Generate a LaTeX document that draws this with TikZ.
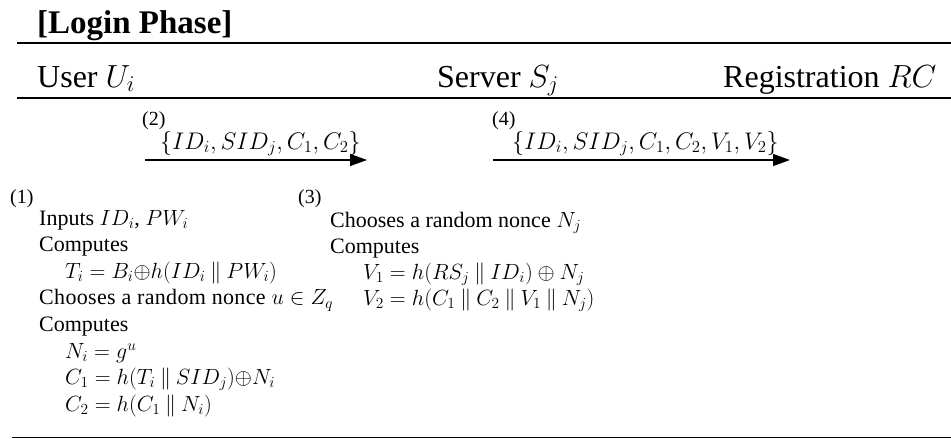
\documentclass[tikz,border=0pt]{standalone}
\usepackage{fix-cm}
\usepackage{fontspec}
\setmainfont{Liberation Serif}
\usetikzlibrary{arrows.meta, positioning}
\newcommand{\catbar}{\mathbin{\|}}
\newcommand{\bodyfont}{\fontsize{22}{26}\selectfont}

\begin{document}
\begin{tikzpicture}[
    x=1pt, y=-1pt,
    title/.style={anchor=base west, inner sep=0pt, font=\fontsize{33}{38}\selectfont\bfseries},
    party/.style={anchor=base west, inner sep=0pt, font=\fontsize{32}{38}\selectfont},
    txt/.style={anchor=base west, inner sep=0pt, font=\bodyfont},
    stepno/.style={anchor=base west, inner sep=0pt, font=\fontsize{20}{24}\selectfont},
    rule/.style={line width=2.4pt},
    msg/.style={-{Triangle[length=17pt,width=12pt]}, line width=1.3pt}
]
    \useasboundingbox (0,0) rectangle (951,439);

    \node[title] (phase) at (37,33) {[Login Phase]};
    \draw[rule] (17,43) -- (951,43);
    \node[party] (user) at (37,87) {User\ $U_i$};
    \node[party] (server) at (437,87) {Server\ $S_j$};
    \node[party] (rc) at (723,87) {Registration\ $RC$};
    \draw[rule] (17,98) -- (951,98);

    \coordinate (m2s) at (145,160);
    \coordinate (m2e) at (367,160);
    \coordinate (m4s) at (493,160);
    \coordinate (m4e) at (790,160);
    \node[stepno] (s2) at (142,125) {(2)};
    \node[txt, font=\fontsize{24}{28}\selectfont] (msgA) at (160,149) {$\{ID_i, SID_j, C_1, C_2\}$};
    \draw[msg] (m2s) -- (m2e);
    \node[stepno] (s4) at (492,125) {(4)};
    \node[txt, font=\fontsize{24}{28}\selectfont] (msgB) at (512,149) {$\{ID_i, SID_j, C_1, C_2, V_1, V_2\}$};
    \draw[msg] (m4s) -- (m4e);

    \node[stepno] (s1) at (10,203) {(1)};
    \node[txt] (u1) at (39,225) {Inputs $ID_i$, $PW_i$};
    \node[txt] (u2) at (39,251.6) {Computes};
    \node[txt] (u3) at (65,278.2) {$T_i = B_i{\oplus}h(ID_i \catbar PW_i)$};
    \node[txt] (u4) at (39,304.8) {\addfontfeatures{LetterSpace=1.5}Chooses a random nonce $u \in Z_q$};
    \node[txt] (u5) at (39,331.4) {Computes};
    \node[txt] (u6) at (65,358) {$N_i = g^u$};
    \node[txt] (u7) at (65,384.6) {$C_1 = h(T_i \catbar SID_j){\oplus}N_i$};
    \node[txt] (u8) at (65,411.2) {$C_2 = h(C_1 \catbar N_i)$};

    \node[stepno] (s3) at (298,203) {(3)};
    \node[txt] (v1) at (330,227) {Chooses a random nonce $N_j$};
    \node[txt] (v2) at (330,253) {Computes};
    \node[txt] (v3) at (363,279) {$V_1 = h(RS_j \catbar ID_i) \oplus N_j$};
    \node[txt] (v4) at (363,305) {$V_2 = h(C_1 \catbar C_2 \catbar V_1 \catbar N_j)$};

    \draw[line width=1.5pt] (12,437.5) -- (951,437.5);
\end{tikzpicture}
\end{document}
